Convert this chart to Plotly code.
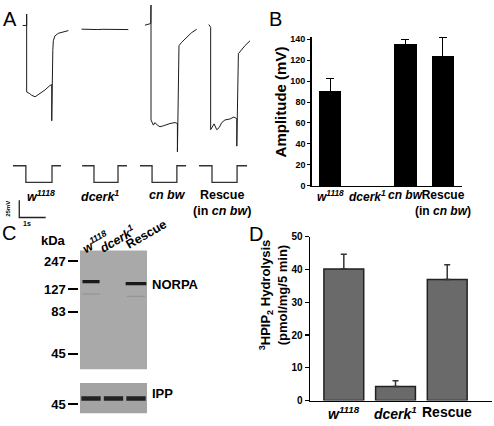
import plotly.graph_objects as go

W, H = 494, 426
FONT = "Liberation Sans, Arial, Helvetica, sans-serif"

# ---------------- Panel A: ERG traces (time in s, voltage in mV) ----------------
W1118_T = [0.86, 1.01, 1.01, 1.01, 1.11, 1.20, 1.33, 1.41, 1.52, 1.70, 1.89, 1.96, 1.96, 1.98, 2.00, 2.02, 2.08, 2.21, 2.40, 2.59]
W1118_V = [0, 0, 16.6, -97, -99, -101.8, -104, -101.8, -99, -94.2, -87.6, -86.2, -139, -65, -36.5, -22.3, -15.2, -11.4, -8.9, -7.5]
DCERK_T = [3.09, 3.3, 3.5, 3.7, 3.9, 4.1, 4.3, 4.5, 4.7, 4.86]
DCERK_V = [-5.4, -5.8, -5.5, -6.0, -5.6, -5.9, -5.5, -6.1, -5.8, -6.0]
CNBW_T = [5.49, 5.71, 5.72, 5.72, 5.81, 5.87, 5.96, 6.06, 6.19, 6.31, 6.44, 6.63, 6.72, 6.72, 6.75, 6.78, 6.88, 7.07, 7.26, 7.45]
CNBW_V = [0.4, 2.8, 35, -137.8, -145.3, -141.6, -145.3, -147.7, -146.3, -144.5, -143, -141.6, -143, -184.2, -41.2, -29.4, -24.6, -17.5, -10.4, -5.7]
RESCUE_T = [7.91, 7.98, 7.98, 8.11, 8.21, 8.30, 8.40, 8.52, 8.71, 8.86, 8.97, 8.97, 9.03, 9.12, 9.28, 9.47]
RESCUE_V = [1.4, -2.8, -152, -143.5, -152, -149, -141.6, -137.8, -136.4, -133.5, -136, -176, -41.2, -36.5, -29.4, -22.3]
# light stimulus (1 = dark, 0 = light on)
STIM_T = [0.49, 0.98, 0.98, 1.97, 1.97, 2.31, None, 3.11, 3.56, 3.56, 4.47, 4.47, 4.81, None,
          5.30, 5.76, 5.76, 6.70, 6.70, 7.05, None, 7.54, 8.03, 8.03, 8.98, 8.98, 9.36]
STIM_L = [1, 1, 0, 0, 1, 1, None, 1, 1, 0, 0, 1, 1, None, 1, 1, 0, 0, 1, 1, None, 1, 1, 0, 0, 1, 1]
TRACE_LABEL_T = [1.55, 3.79, 6.33, 8.41]
TRACE_LABELS = ["<b><i>w<sup>1118</sup></i></b>", "<b><i>dcerk<sup>1</sup></i></b>",
                "<b><i>cn bw</i></b>", "<b>Rescue<br>(in <i>cn bw</i>)</b>"]
SCALE_T0, SCALE_S = 0.73, 1.0
SCALE_V0, SCALE_MV = -255.0, 25.0

# ---------------- Panel B: amplitude ----------------
B_CATS = ["<b><i>w<sup>1118</sup></i></b>", "<b><i>dcerk<sup>1</sup></i></b>",
          "<b><i>cn bw</i></b>", "<b>Rescue<br>(in <i>cn bw</i>)</b>"]
B_VALS = [90.5, 0, 135, 123.5]
B_ERR = [12.2, 0, 5, 18]
B_TICKS = [0, 20, 40, 60, 80, 100, 120, 140]

# ---------------- Panel C: western blot ----------------
LANE_LABELS = ["<b><i>w<sup>1118</sup></i></b>", "<b><i>dcerk<sup>1</sup></i></b>", "<b>Rescue</b>"]
MARKER_KDA = [247, 127, 83, 45]
MARKER_POS = [11, 40, 63, 106]          # migration (px from top of gel)
NORPA_LANE = [0, 2]
NORPA_POS = [32, 34]
FAINT_LANE = [0, 2]
FAINT_POS = [44.7, 47]
IPP_LANE = [0, 1, 2]
IPP_POS = [16, 16, 16]
IPP_MARKER_KDA = [45]
IPP_MARKER_POS = [22]

# ---------------- Panel D: PIP2 hydrolysis ----------------
D_CATS = ["<b><i>w<sup>1118</sup></i></b>", "<b><i>dcerk<sup>1</sup></i></b>", "<b>Rescue</b>"]
D_VALS = [40.2, 4.3, 37.0]
D_ERR = [4.5, 1.7, 4.5]
D_TICKS = [0, 10, 20, 30, 40, 50]


def px(x):
    return x / W


def py(y):
    return 1 - y / H


fig = go.Figure()

# ---- A traces
for t, v in [(W1118_T, W1118_V), (DCERK_T, DCERK_V), (CNBW_T, CNBW_V), (RESCUE_T, RESCUE_V)]:
    fig.add_trace(go.Scatter(x=t, y=v, mode="lines", line=dict(color="#1c1c1c", width=1),
                             xaxis="x", yaxis="y", hoverinfo="skip", showlegend=False))
fig.add_trace(go.Scatter(x=STIM_T, y=STIM_L, mode="lines", line=dict(color="#333", width=1.3),
                         xaxis="x", yaxis="y6", connectgaps=False, showlegend=False, hoverinfo="skip"))
fig.add_trace(go.Scatter(x=[SCALE_T0, SCALE_T0, SCALE_T0 + SCALE_S],
                         y=[SCALE_V0, SCALE_V0 - SCALE_MV, SCALE_V0 - SCALE_MV],
                         mode="lines", line=dict(color="#222", width=1.3),
                         xaxis="x", yaxis="y", showlegend=False, hoverinfo="skip"))

# ---- B bars (categories with no response draw nothing)
b_idx = [i for i, v in enumerate(B_VALS) if v > 0]
fig.add_trace(go.Bar(x=b_idx, y=[B_VALS[i] for i in b_idx], width=0.6,
                     marker=dict(color="black", line=dict(width=0)),
                     error_y=dict(type="data", array=[B_ERR[i] for i in b_idx], symmetric=False,
                                  arrayminus=[0] * len(b_idx), color="black", thickness=1, width=4),
                     xaxis="x2", yaxis="y2", showlegend=False, hoverinfo="skip"))

# ---- D bars
fig.add_trace(go.Bar(x=list(range(len(D_VALS))), y=D_VALS, width=0.77,
                     marker=dict(color="#6a6a6a", line=dict(color="#222", width=1.5)),
                     error_y=dict(type="data", array=D_ERR, symmetric=False, arrayminus=[0] * 3,
                                  color="#333", thickness=1.5, width=3),
                     xaxis="x3", yaxis="y3", showlegend=False, hoverinfo="skip"))

# ---- C blot bands
for lane, pos in zip(FAINT_LANE, FAINT_POS):
    fig.add_trace(go.Scatter(x=[lane - 0.4, lane + 0.4], y=[pos, pos], mode="lines",
                             line=dict(color="#909090", width=1), xaxis="x4", yaxis="y4",
                             showlegend=False, hoverinfo="skip"))
for lane, pos, hw in zip(NORPA_LANE, NORPA_POS, [0.38, 0.46]):
    fig.add_trace(go.Scatter(x=[lane - hw, lane + hw], y=[pos, pos], mode="lines",
                             line=dict(color="#1a1a1a", width=3.2), xaxis="x4", yaxis="y4",
                             showlegend=False, hoverinfo="skip"))
for lane, pos in zip(IPP_LANE, IPP_POS):
    fig.add_trace(go.Scatter(x=[lane - 0.43, lane + 0.43], y=[pos, pos], mode="lines",
                             line=dict(color="#222", width=4.5), xaxis="x5", yaxis="y5",
                             showlegend=False, hoverinfo="skip"))

hidden = dict(visible=False, showgrid=False, zeroline=False, fixedrange=True)

blot_y_common = dict(showgrid=False, zeroline=False, showline=False, ticks="outside", ticklen=10,
                     tickwidth=2, tickcolor="black", tickfont=dict(size=13, color="black", family=FONT),
                     anchor="free", position=px(78.3), fixedrange=True)

fig.update_layout(
    width=W, height=H, margin=dict(l=0, r=0, t=0, b=0),
    paper_bgcolor="white", plot_bgcolor="rgba(0,0,0,0)",
    font=dict(family=FONT, color="black"),
    bargap=0,
    # A
    xaxis=dict(domain=[0, px(250)], range=[0, 250 / 26.4], **hidden),
    yaxis=dict(domain=[py(230), 1], range=[(21 - 230) / 0.704, 21 / 0.704], anchor="x", **hidden),
    yaxis6=dict(domain=[py(190), py(160)], range=[-0.4706, 1.294], anchor="x", **hidden),
    # B
    xaxis2=dict(domain=[px(311.7), px(461.6)], range=[-0.49, 3.5], anchor="y2", showgrid=False,
                zeroline=False, showline=True, linecolor="black", linewidth=1.5, showticklabels=False,
                ticks="", fixedrange=True),
    yaxis2=dict(domain=[py(185.7), py(185.7 - 142 * 1.0764)], range=[0, 142], anchor="x2",
                tickvals=B_TICKS, ticktext=[f"<b>{v}</b>" for v in B_TICKS],
                ticks="outside", ticklen=3, tickwidth=1, tickcolor="black",
                showline=True, linecolor="black", linewidth=1.5, showgrid=False, zeroline=False,
                tickfont=dict(size=9, color="black", family=FONT), fixedrange=True),
    # D
    xaxis3=dict(domain=[px(310), px(492)], range=[-0.654, 2.866], anchor="y3", showgrid=False,
                zeroline=False, showline=True, linecolor="black", linewidth=1.5, showticklabels=False,
                ticks="", fixedrange=True),
    yaxis3=dict(domain=[py(406), py(238)], range=[0, 50], anchor="x3", tickvals=D_TICKS,
                ticktext=[f"<b>{v}</b>" for v in D_TICKS],
                ticks="outside", ticklen=4, tickwidth=1.2, tickcolor="black", showline=True,
                linecolor="black", linewidth=1.5, showgrid=False, zeroline=False,
                tickfont=dict(size=10, color="black", family=FONT), fixedrange=True),
    # C blots
    xaxis4=dict(domain=[px(80), px(147)], range=[-0.49, 2.49], anchor="y4", **hidden),
    yaxis4=dict(domain=[py(374), py(252)], range=[122, 0],
                tickvals=MARKER_POS, ticktext=[f"<b>{k}</b>" for k in MARKER_KDA], **blot_y_common),
    xaxis5=dict(domain=[px(80), px(147)], range=[-0.49, 2.49], anchor="y5", **hidden),
    yaxis5=dict(domain=[py(419), py(388)], range=[31, 0],
                tickvals=IPP_MARKER_POS, ticktext=[f"<b>{k}</b>" for k in IPP_MARKER_KDA], **blot_y_common),
)

# blot backgrounds
for xr, yr, col in [("x4 domain", "y4 domain", "#a9a9a9"), ("x5 domain", "y5 domain", "#a3a3a3")]:
    fig.add_shape(type="rect", xref=xr, yref=yr, x0=0, x1=1, y0=0, y1=1,
                  fillcolor=col, line=dict(width=0), layer="below")


def note(text, x, y, xref="paper", yref="paper", size=13, xanchor="center", yanchor="middle", **kw):
    return dict(text=text, x=x, y=y, xref=xref, yref=yref, showarrow=False, xanchor=xanchor,
                yanchor=yanchor, font=dict(size=size, family=FONT, color="black"), **kw)


ann = []
# panel letters
for letter, x, y in [("A", 9.5, 14), ("B", 275.5, 14), ("C", 9, 234), ("D", 256, 235)]:
    ann.append(note(letter, px(x), py(y), size=20))
# A trace labels
for t, lab in zip(TRACE_LABEL_T, TRACE_LABELS):
    ann.append(note(lab, t, py(186), xref="x", size=12.5, yanchor="top"))
ann.append(note("<b>25mV</b>", 0.30, SCALE_V0 - SCALE_MV / 2, xref="x", yref="y", size=6, textangle=-90))
ann.append(note("<b>1s</b>", SCALE_T0 + 0.31, -288.5, xref="x", yref="y", size=7))
# B category labels
for i, lab in enumerate(B_CATS):
    ann.append(note(lab, i, py(186), xref="x2", size=12, yanchor="top"))
ann.append(note("<b>Amplitude (mV)</b>", px(280), py(100), size=15, textangle=-90))
# C labels
ann.append(note("<b>kDa</b>", px(53), py(242)))
for i, lab in enumerate(LANE_LABELS):
    ann.append(note(lab, i, py([243, 240, 235][i]), xref="x4", size=12.5, textangle=-30,
                    xshift=[4, 3, 11][i]))
ann.append(note("<b>NORPA</b>", px(150), py(287), xanchor="left"))
ann.append(note("<b>IPP</b>", px(150), py(399), xanchor="left"))
# D labels
for i, lab in enumerate(D_CATS):
    ann.append(note(lab, i, py(408), xref="x3", size=14, yanchor="top"))
ann.append(note("<b><sup>3</sup>HPIP<sub>2</sub> Hydrolysis<br>(pmol/mg/5 min)</b>",
                px(273), py(298), textangle=-90))

fig.update_layout(annotations=ann)
fig.write_html("out.html", config={"displayModeBar": False, "staticPlot": True},
               post_script="document.body.style.margin='0';document.body.style.overflow='hidden';")
